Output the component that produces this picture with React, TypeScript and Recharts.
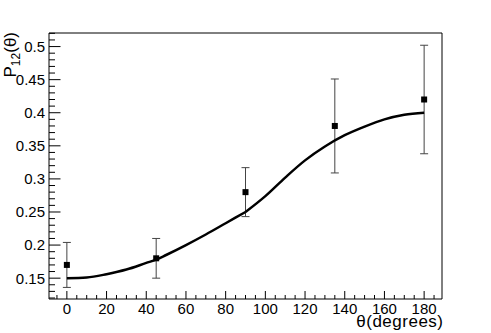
import React from "react";
import {
  ComposedChart,
  Line,
  Scatter,
  ErrorBar,
  XAxis,
  YAxis,
} from "recharts";

// measured points with errors
const angles = [0, 45, 90, 135, 180];
const measured = [0.17, 0.18, 0.28, 0.38, 0.42];
const errors = [0.034, 0.03, 0.037, 0.071, 0.082];

const curveAnglesA = [0, 10, 20, 30, 40, 45, 50, 60, 70, 80, 90];
const curveValuesA = [0.15, 0.151, 0.156, 0.163, 0.173, 0.178, 0.185, 0.2, 0.216, 0.233, 0.25];
const curveAnglesB = [90, 100, 110, 120, 130, 140, 150, 160, 170, 180];
const curveValuesB = [0.25, 0.274, 0.302, 0.328, 0.349, 0.366, 0.379, 0.39, 0.397, 0.4];

const xMajorTicks = [0, 20, 40, 60, 80, 100, 120, 140, 160, 180];
const xAllTicks = [
  -5, 0, 5, 10, 15, 20, 25, 30, 35, 40, 45, 50, 55, 60, 65, 70, 75, 80, 85, 90, 95,
  100, 105, 110, 115, 120, 125, 130, 135, 140, 145, 150, 155, 160, 165, 170, 175, 180, 185,
];
const yMajorTicks = [0.15, 0.2, 0.25, 0.3, 0.35, 0.4, 0.45, 0.5];
const yAllTicks = [
  0.12, 0.13, 0.14, 0.15, 0.16, 0.17, 0.18, 0.19, 0.2, 0.21, 0.22, 0.23, 0.24, 0.25,
  0.26, 0.27, 0.28, 0.29, 0.3, 0.31, 0.32, 0.33, 0.34, 0.35, 0.36, 0.37, 0.38, 0.39,
  0.4, 0.41, 0.42, 0.43, 0.44, 0.45, 0.46, 0.47, 0.48, 0.49, 0.5, 0.51, 0.52,
];

const points = angles.map((a, i) => ({ deg: a, p: measured[i], err: errors[i] }));
const curveA = curveAnglesA.map((a, i) => ({ deg: a, fit: curveValuesA[i] }));
const curveB = curveAnglesB.map((a, i) => ({ deg: a, fit: curveValuesB[i] }));

const FONT = "'Liberation Sans', Arial, Helvetica, sans-serif";
const GAP = 4;
const X_DOMAIN = [-9, 189];
const Y_DOMAIN = [0.1185, 0.5205];

const isMajorY = (v: number) => yMajorTicks.some((m) => Math.abs(m - v) < 1e-6);

const YTick = (props: any) => {
  const { x, y, payload } = props;
  const v = payload.value;
  const major = isMajorY(v);
  const ax = x + GAP;
  return (
    <g>
      <line x1={ax} x2={ax + (major ? 11.5 : 6)} y1={y} y2={y} stroke="#000" strokeWidth={1} />
      {major && (
        <text x={x} y={y} dy="0.36em" textAnchor="end" fontSize={15} fontFamily={FONT} fill="#000">
          {String(+v.toFixed(2))}
        </text>
      )}
    </g>
  );
};

const XTick = (props: any) => {
  const { x, y, payload } = props;
  const v = payload.value;
  const major = xMajorTicks.includes(v);
  const ay = y - GAP;
  return (
    <g>
      <line x1={x} x2={x} y1={ay} y2={ay - (major ? 8 : 4)} stroke="#000" strokeWidth={1} />
      {major && (
        <text x={x} y={y} dy="0.71em" textAnchor="middle" fontSize={15} fontFamily={FONT} fill="#000">
          {v}
        </text>
      )}
    </g>
  );
};

const Square = (props: any) => {
  const { cx, cy } = props;
  return <rect x={cx - 3} y={cy - 3} width={6} height={6} fill="#000" />;
};

const App: React.FC = () => {
  return (
    <div
      style={{
        position: "absolute",
        left: 0,
        top: 0,
        width: 491,
        height: 333,
        backgroundColor: "#ffffff",
      }}
    >
      <ComposedChart
        width={491}
        height={333}
        margin={{ top: 32, right: 48, bottom: 33, left: 48 }}
      >
        <XAxis
          dataKey="deg"
          type="number"
          domain={X_DOMAIN}
          ticks={xAllTicks}
          interval={0}
          allowDataOverflow
          height={1}
          tickSize={0}
          tickMargin={GAP}
          tickLine={false}
          axisLine={{ stroke: "#000" }}
          tick={<XTick />}
          label={{
            content: (p: any) => {
              const vb = p.viewBox;
              return (
                <text
                  x={vb.x + vb.width + 1.5}
                  y={vb.y + 28}
                  textAnchor="end"
                  fontSize={17}
                  letterSpacing={0.5}
                  fontFamily={FONT}
                  fill="#000"
                >
                  θ(degrees)
                </text>
              );
            },
          }}
        />
        <YAxis
          type="number"
          domain={Y_DOMAIN}
          ticks={yAllTicks}
          interval={0}
          allowDataOverflow
          width={1}
          tickSize={0}
          tickMargin={GAP}
          tickLine={false}
          axisLine={{ stroke: "#000" }}
          tick={<YTick />}
          label={{
            content: (p: any) => {
              const vb = p.viewBox;
              const tx = vb.x - 32;
              const ty = vb.y - 1;
              return (
                <text
                  x={tx}
                  y={ty}
                  transform={`rotate(-90 ${tx} ${ty})`}
                  textAnchor="end"
                  fontSize={17}
                  fontFamily={FONT}
                  fill="#000"
                >
                  P
                  <tspan fontSize={12} dy={4}>12</tspan>
                  <tspan dy={-4}>(θ)</tspan>
                </text>
              );
            },
          }}
        />
        <XAxis
          xAxisId="top"
          orientation="top"
          type="number"
          domain={X_DOMAIN}
          height={1}
          tick={false}
          tickLine={false}
          axisLine={{ stroke: "#000" }}
        />
        <YAxis
          yAxisId="right"
          orientation="right"
          type="number"
          domain={Y_DOMAIN}
          width={1}
          tick={false}
          tickLine={false}
          axisLine={{ stroke: "#000" }}
        />
        <Scatter data={points} dataKey="p" shape={<Square />} isAnimationActive={false}>
          <ErrorBar dataKey="err" direction="y" width={4} stroke="#444" strokeWidth={1} isAnimationActive={false} />
        </Scatter>
        <Line
          data={curveA}
          dataKey="fit"
          type="monotone"
          stroke="#000"
          strokeWidth={2.5}
          dot={false}
          activeDot={false}
          isAnimationActive={false}
        />
        <Line
          data={curveB}
          dataKey="fit"
          type="monotone"
          stroke="#000"
          strokeWidth={2.5}
          dot={false}
          activeDot={false}
          isAnimationActive={false}
        />
      </ComposedChart>
    </div>
  );
};

export default App;
